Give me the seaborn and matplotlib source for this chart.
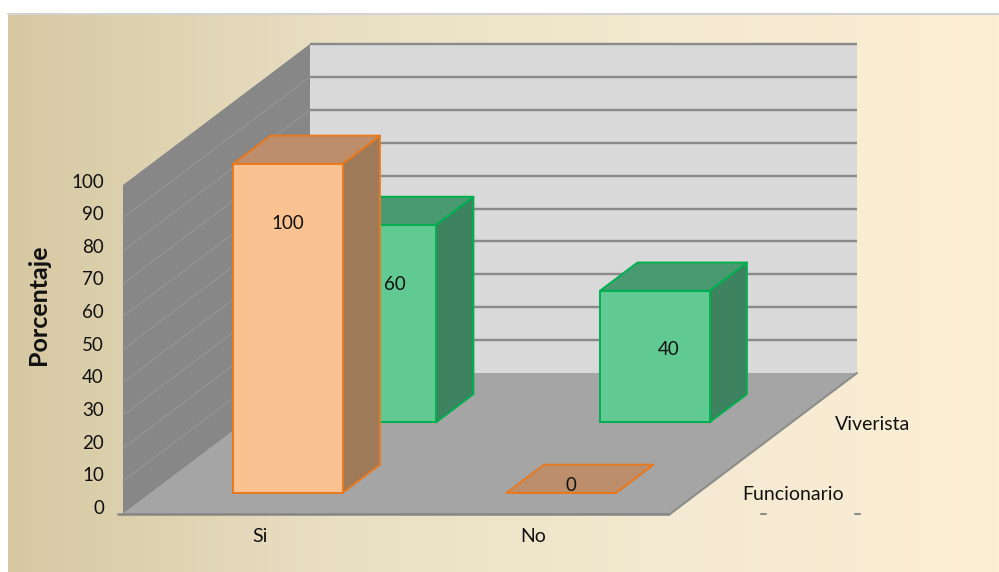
import numpy as np
import matplotlib
matplotlib.use("Agg")
import matplotlib.pyplot as plt
from matplotlib.patches import Polygon
from matplotlib.colors import LinearSegmentedColormap
import seaborn as sns

# ---- data -------------------------------------------------------------
categories = ["Si", "No"]
series = ["Funcionario", "Viverista"]
funcionario = [100, 0]
viverista = [60, 40]
y_ticks = [0, 10, 20, 30, 40, 50, 60, 70, 80, 90, 100]
y_label = "Porcentaje"

# ---- style ------------------------------------------------------------
sns.set_theme(style="white")
plt.rcParams["font.family"] = ["Lato", "DejaVu Sans"]

ORANGE = dict(front="#FAC191", side="#9F7A59", top="#BC8E6B", edge="#E8791E")
GREEN = dict(front="#61CA93", side="#3D8360", top="#4A9A71", edge="#00B050")
TXT = "#111111"

W, H = 999, 572
fig = plt.figure(figsize=(W / 100, H / 100), dpi=100)
fig.patch.set_facecolor("white")
ax = fig.add_axes([0, 0, 1, 1])

# oblique projection: x in category units, y in percent, z = series row
PX_CAT = 273.5          # pixels per category
PX_VAL = 3.29           # pixels per percentage point
X0, Y0 = 123, 514       # front-left corner of the floor (pixels)
ROW_DX, ROW_DY = 93.5, 70.5   # pixel shift per series row
kx = ROW_DX / PX_CAT
ky = ROW_DY / PX_VAL
BAR_W, BAR_D = 0.4, 0.4
NROWS = len(series)
XMIN, XMAX = -0.5, len(categories) - 0.5
VMAX = y_ticks[-1]


def px_x(px):
    return XMIN + (px - X0) / PX_CAT


def px_y(py):
    return (Y0 - py) / PX_VAL


def P(x, z, y):
    return (x + z * kx, y + z * ky)


# ---- background -------------------------------------------------------
bg = LinearSegmentedColormap.from_list("bg", ["#D6C8A2", "#E9DFC3", "#F4EAD1", "#FBEED5"])
grad = np.tile(np.linspace(0, 1, 256), (2, 1))
ax.imshow(grad, cmap=bg, aspect="auto", zorder=0,
          extent=(px_x(8), px_x(W), px_y(H), px_y(13)))
ax.plot([px_x(8), px_x(W)], [px_y(13.5), px_y(13.5)], color="#D2D2D2", lw=1.5, zorder=0.5)

# ---- walls and floor --------------------------------------------------
back_wall = [P(XMIN, NROWS, 0), P(XMAX, NROWS, 0), P(XMAX, NROWS, VMAX), P(XMIN, NROWS, VMAX)]
side_wall = [P(XMIN, 0, 0), P(XMIN, NROWS, 0), P(XMIN, NROWS, VMAX), P(XMIN, 0, VMAX)]
floor = [P(XMIN, 0, 0), P(XMAX, 0, 0), P(XMAX, NROWS, 0), P(XMIN, NROWS, 0)]
ax.add_patch(Polygon(back_wall, closed=True, facecolor="#D9D9D9", edgecolor="none", zorder=1))
ax.add_patch(Polygon(side_wall, closed=True, facecolor="#878787", edgecolor="none", zorder=1))

for v in y_ticks[1:]:
    (xa, ya), (xb, yb) = P(XMIN, NROWS, v), P(XMAX, NROWS, v)
    ax.plot([xa, xb], [ya, yb], color="#8A8A8A", lw=1.7, zorder=1.2, solid_capstyle="butt")
    (xa, ya), (xb, yb) = P(XMIN, 0, v), P(XMIN, NROWS, v)
    if v < VMAX:
        ax.plot([xa, xb], [ya, yb], color="#959595", lw=0.8, zorder=1.2)

ax.add_patch(Polygon(floor, closed=True, facecolor="#A5A5A5", edgecolor="none", zorder=1.5))
# floor edges
(fa, fb), (fc, fd) = P(XMAX, 0, 0), P(XMAX, NROWS, 0)
ax.plot([px_x(X0 - 6), fa], [0, 0], color="#858585", lw=1.8, zorder=1.6, solid_capstyle="butt")
ax.plot([fa, fc], [fb, fd], color="#8C8C8C", lw=1.5, zorder=1.6)

# ---- bars (back row first) --------------------------------------------
rows = [(1, viverista, GREEN), (0, funcionario, ORANGE)]
for row, vals, pal in rows:
    n0 = len(ax.patches)
    sns.barplot(x=categories, y=vals, order=categories, width=BAR_W, color=pal["front"],
                saturation=1, errorbar=None, edgecolor=pal["edge"], linewidth=1.4,
                ax=ax)
    zf = row + (1 - BAR_D) / 2
    base_z = 3 + (NROWS - row)
    for p, v in zip(ax.patches[n0:], vals):
        p.set_x(p.get_x() + zf * kx)
        p.set_y(zf * ky)
        p.set_zorder(base_z + 0.2)
        x0, y0 = p.get_x(), p.get_y()
        x1, y1 = x0 + p.get_width(), y0 + p.get_height()
        ddx, ddy = BAR_D * kx, BAR_D * ky
        side = [(x1, y0), (x1 + ddx, y0 + ddy), (x1 + ddx, y1 + ddy), (x1, y1)]
        top = [(x0, y1), (x1, y1), (x1 + ddx, y1 + ddy), (x0 + ddx, y1 + ddy)]
        ax.add_patch(Polygon(side, closed=True, facecolor=pal["side"], edgecolor=pal["edge"],
                             lw=1.4, zorder=base_z, joinstyle="round"))
        ax.add_patch(Polygon(top, closed=True, facecolor=pal["top"], edgecolor=pal["edge"],
                             lw=1.4, zorder=base_z + 0.1, joinstyle="round"))
        cx = x0 + p.get_width() / 2
        if v > 0:
            lx = cx + (0.05 if row > 0 else 0)
            ly = y0 + v - 18
        else:
            lx, ly = cx + 0.1 * kx, y0 + 0.1 * ky
        ax.text(lx, ly, f"{v}", ha="center", va="center", fontsize=13.5,
                color=TXT, zorder=base_z + 0.5)

# ---- axis texts -------------------------------------------------------
for v in y_ticks:
    ax.text(px_x(104), px_y(508.5 - v * 3.265), f"{v}", ha="right", va="center",
            fontsize=13.5, color=TXT)
ax.text(px_x(38), px_y(305), y_label, rotation=90, ha="center", va="center",
        fontsize=18, fontweight="bold", color=TXT)

for i, c in enumerate(categories):
    ax.text(i, px_y(537), c, ha="center", va="center", fontsize=14, color=TXT)

for row, name in enumerate(series):
    ax.annotate(name, xy=P(XMAX, row + 0.5, 0), xytext=(18, -11.5), textcoords="offset points",
                ha="left", va="center", fontsize=14, color=TXT)

for z in range(1, NROWS + 1):
    xz, _ = P(XMAX, z, 0)
    ax.plot([xz - 2.5 / PX_CAT, xz + 2.5 / PX_CAT], [0, 0], color="#8C8C8C", lw=1.5, zorder=2)

ax.set_xlim(px_x(0), px_x(W))
ax.set_ylim(px_y(H), px_y(0))
ax.set_axis_off()

fig.savefig("out.png", dpi=100, facecolor="white")
